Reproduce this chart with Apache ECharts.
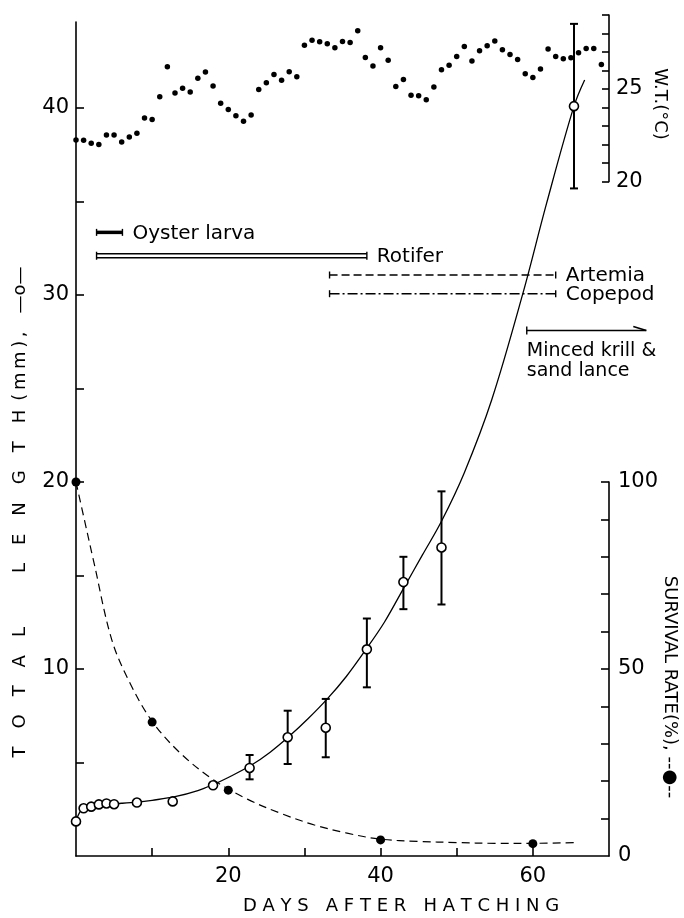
<!DOCTYPE html>
<html><head><meta charset="utf-8">
<script src="https://cdn.jsdelivr.net/npm/echarts@6/dist/echarts.min.js"></script>
<style>html,body{margin:0;padding:0;background:#fff}#c{width:684px;height:918px}</style>
</head><body><div id="c"></div>
<script>
// ---------- DATA ----------
const wtDays = [0,1,2,3,4,5,6,7,8,9,10,11,12,13,14,15,16,17,18,19,20,21,22,23,24,25,26,27,28,29,30,31,32,33,34,35,36,37,38,39,40,41,42,43,44,45,46,47,48,49,50,51,52,53,54,55,56,57,58,59,60,61,62,63,64,65,66,67,68,69];
const wtValues = [22.25,22.23,22.07,22.0,22.52,22.52,22.14,22.41,22.61,23.44,
  23.35,24.59,26.2,24.78,25.04,24.84,25.58,25.92,25.16,24.23,
  23.9,23.56,23.26,23.6,24.98,25.34,25.79,25.47,25.94,25.67,
  27.37,27.63,27.55,27.45,27.23,27.57,27.52,28.15,26.71,26.24,
  27.23,26.56,25.14,25.52,24.66,24.64,24.42,25.11,26.04,26.29,
  26.76,27.30,26.51,27.07,27.34,27.59,27.12,26.87,26.6,25.83,
  25.63,26.08,27.16,26.76,26.64,26.69,26.96,27.19,27.19,26.33];

const lengthDays   = [0,1,2,3,4,5,8,12.7,18,22.8,27.8,32.8,38.2,43,48,65.4];
const lengthValues = [1.85,2.55,2.64,2.76,2.81,2.77,2.86,2.92,3.78,4.71,6.35,6.86,11.05,14.65,16.5,40.1];

const errorDays = [22.8,27.8,32.8,38.2,43,48,65.4];
const errorLow  = [4.1,4.92,5.28,9.02,13.2,13.45,35.7];
const errorHigh = [5.4,7.77,8.4,12.7,16.0,19.5,44.5];

const lengthCurveDays   = [0,0.5,1,2,4,6,8,10,13,16,18,20,23,25.5,28,30.5,33,35.5,38,40.5,43,45.5,48,51,54.6,58.7,61.8,65.4,66.8];
const lengthCurveValues = [1.9,2.35,2.55,2.65,2.78,2.82,2.88,2.98,3.17,3.5,3.82,4.2,4.85,5.55,6.4,7.35,8.4,9.6,11.0,12.5,14.3,16.1,17.9,20.5,24.4,30.1,34.9,40.1,41.5];

const survivalDays   = [0,10,20,40,60];
const survivalValues = [100,35.8,17.6,4.3,3.3];

const survivalCurveDays   = [0,1.2,2.3,4.7,7.1,10,13.7,18.1,22.5,26.9,31.3,35.6,40,45,50,55,60,65.6];
const survivalCurveValues = [100,89,79,57.8,46.2,36,27.5,20.3,15.2,11.4,8.3,6.1,4.5,3.9,3.6,3.4,3.4,3.6];

const dietNames = ['Oyster larva','Rotifer','Artemia','Copepod','Minced krill &\nsand lance'];
const dietStart = [2.7,2.7,33.3,33.3,59.2];
const dietEnd   = [6.1,38.2,63.0,63.0,74.9];
const dietLevel = [33.35,32.1,31.07,30.07,28.1];

const xTicks = [10,20,30,40,50,60];
const xLabels = [20,40,60];
const lenTicks = [5,10,15,20,25,30,35,40];
const lenLabels = [10,20,30,40];
const survTicks = [10,20,30,40,50,60,70,80,90,100];
const survLabels = [0,50,100];
const wtTicks = [20,21,22,23,24,25,26,27,28,29];
const wtLabels = [20,25];

// ---------- STYLE CONFIG ----------
const FONT = 'DejaVu Sans';
const dietKinds = ['thick','double','dashed','dashdot','arrow'];

const zip = (a, b) => a.map((v, i) => [v, b[i]]);

const chart = echarts.init(document.getElementById('c'), null, {renderer: 'canvas'});

const axisLine = {show: true, onZero: false, lineStyle: {color: '#000', width: 1.6}};
const labelStyle = {color: '#000', fontFamily: FONT, fontSize: 21};
const tickStyle = {color: '#000', width: 1.6};

function diet(params, api) {
  const i = params.dataIndex;
  const a = api.coord([dietStart[i], dietLevel[i]]);
  const b = api.coord([dietEnd[i], dietLevel[i]]);
  const kind = dietKinds[i];
  const st = {stroke: '#000', lineWidth: 1.4};
  const ch = [];
  const cap = (x, h) => ({type: 'line', shape: {x1: x, y1: a[1] - h, x2: x, y2: a[1] + h}, style: st});
  if (kind === 'thick') {
    ch.push({type: 'line', shape: {x1: a[0], y1: a[1], x2: b[0], y2: b[1]}, style: {stroke: '#000', lineWidth: 3.5}});
    ch.push(cap(a[0], 3.5), cap(b[0], 3.5));
  } else if (kind === 'double') {
    ch.push({type: 'line', shape: {x1: a[0], y1: a[1] - 2, x2: b[0], y2: b[1] - 2}, style: st});
    ch.push({type: 'line', shape: {x1: a[0], y1: a[1] + 2, x2: b[0], y2: b[1] + 2}, style: st});
    ch.push(cap(a[0], 4), cap(b[0], 4));
  } else if (kind === 'dashed') {
    ch.push({type: 'line', shape: {x1: a[0], y1: a[1], x2: b[0], y2: b[1]}, style: {stroke: '#000', lineWidth: 1.4, lineDash: [8, 4]}});
    ch.push(cap(a[0], 3.5), cap(b[0], 3.5));
  } else if (kind === 'dashdot') {
    ch.push({type: 'line', shape: {x1: a[0], y1: a[1], x2: b[0], y2: b[1]}, style: {stroke: '#000', lineWidth: 1.4, lineDash: [10, 3, 2, 3]}});
    ch.push(cap(a[0], 3.5), cap(b[0], 3.5));
  } else {
    ch.push({type: 'line', shape: {x1: a[0], y1: a[1], x2: b[0], y2: b[1]}, style: {stroke: '#000', lineWidth: 1.6}});
    ch.push(cap(a[0], 4));
    ch.push({type: 'line', shape: {x1: b[0], y1: b[1], x2: b[0] - 13, y2: b[1] - 4}, style: {stroke: '#000', lineWidth: 1.6}});
  }
  if (kind === 'arrow') {
    ch.push({type: 'text', style: {text: 'Minced krill &', x: a[0], y: a[1] + 21, font: '19px "' + FONT + '"', fill: '#000', textAlign: 'left', textVerticalAlign: 'middle'}});
    ch.push({type: 'text', style: {text: 'sand lance', x: a[0], y: a[1] + 41, font: '19px "' + FONT + '"', fill: '#000', textAlign: 'left', textVerticalAlign: 'middle'}});
  } else {
    ch.push({type: 'text', style: {text: dietNames[i], x: b[0] + 10, y: b[1] + 1, font: '20px "' + FONT + '"', fill: '#000', textAlign: 'left', textVerticalAlign: 'middle'}});
  }
  return {type: 'group', children: ch};
}

function errBar(params, api) {
  const x = api.value(0);
  const p1 = api.coord([x, api.value(1)]);
  const p2 = api.coord([x, api.value(2)]);
  const w = 4;
  const s = {stroke: '#000', lineWidth: 2};
  return {type: 'group', children: [
    {type: 'line', shape: {x1: p1[0], y1: p1[1], x2: p2[0], y2: p2[1]}, style: s},
    {type: 'line', shape: {x1: p1[0] - w, y1: p1[1], x2: p1[0] + w, y2: p1[1]}, style: s},
    {type: 'line', shape: {x1: p2[0] - w, y1: p2[1], x2: p2[0] + w, y2: p2[1]}, style: s}
  ]};
}

const option = {
  backgroundColor: '#fff',
  animation: false,
  grid: [
    {left: 76, top: 22, width: 533, height: 834},
    {left: 76, top: 482, width: 533, height: 374},
    {left: 76, top: 15, width: 533, height: 166.6}
  ],
  xAxis: [
    {gridIndex: 0, type: 'value', min: 0, max: 70, axisLine: axisLine,
     axisTick: {show: true, inside: true, length: 8, lineStyle: tickStyle, customValues: xTicks},
     axisLabel: {...labelStyle, margin: 10, customValues: xLabels},
     splitLine: {show: false}},
    {gridIndex: 1, type: 'value', min: 0, max: 70, show: false},
    {gridIndex: 2, type: 'value', min: 0, max: 70, show: false}
  ],
  yAxis: [
    {gridIndex: 0, type: 'value', min: 0, max: 44.6, position: 'left', axisLine: axisLine,
     axisTick: {show: true, inside: true, length: 8, lineStyle: tickStyle, customValues: lenTicks},
     axisLabel: {...labelStyle, margin: 7, customValues: lenLabels},
     splitLine: {show: false}},
    {gridIndex: 1, type: 'value', min: 0, max: 100, position: 'right', axisLine: axisLine,
     axisTick: {show: true, inside: true, length: 8, lineStyle: tickStyle, customValues: survTicks},
     axisLabel: {...labelStyle, margin: 9, customValues: survLabels},
     splitLine: {show: false}},
    {gridIndex: 2, type: 'value', min: 20, max: 29, position: 'right', axisLine: axisLine,
     axisTick: {show: true, inside: true, length: 7, lineStyle: tickStyle, customValues: wtTicks},
     axisLabel: {...labelStyle, margin: 7, customValues: wtLabels},
     splitLine: {show: false}}
  ],
  series: [
    {type: 'scatter', name: 'W.T.', xAxisIndex: 2, yAxisIndex: 2, data: zip(wtDays, wtValues),
     symbol: 'circle', symbolSize: 5.5, itemStyle: {color: '#000', opacity: 1}, z: 3},
    {type: 'line', name: 'Length curve', xAxisIndex: 0, yAxisIndex: 0, data: zip(lengthCurveDays, lengthCurveValues),
     smooth: 0.35, showSymbol: false, lineStyle: {color: '#000', width: 1.3}, z: 2},
    {type: 'custom', name: 'Error', xAxisIndex: 0, yAxisIndex: 0, renderItem: errBar,
     data: errorDays.map((d, i) => [d, errorLow[i], errorHigh[i]]), encode: {x: 0, y: [1, 2]}, z: 3},
    {type: 'scatter', name: 'Total length', xAxisIndex: 0, yAxisIndex: 0, data: zip(lengthDays, lengthValues),
     symbol: 'circle', symbolSize: 9, itemStyle: {color: '#fff', borderColor: '#000', borderWidth: 1.6, opacity: 1}, z: 5},
    {type: 'line', name: 'Survival curve', xAxisIndex: 1, yAxisIndex: 1, data: zip(survivalCurveDays, survivalCurveValues),
     smooth: 0.35, showSymbol: false, lineStyle: {color: '#000', width: 1.2, type: [8, 5]}, z: 2},
    {type: 'scatter', name: 'Survival rate', xAxisIndex: 1, yAxisIndex: 1, data: zip(survivalDays, survivalValues),
     symbol: 'circle', symbolSize: 9, itemStyle: {color: '#000', opacity: 1}, z: 5},
    {type: 'custom', name: 'Diet', xAxisIndex: 0, yAxisIndex: 0, renderItem: diet, clip: false,
     data: dietStart.map((s, i) => [s, dietLevel[i], dietEnd[i]]), encode: {x: [0, 2], y: 1}, z: 4}
  ],
  graphic: [
    {type: 'text', x: 401, y: 906, style: {text: 'D A Y S   A F T E R   H A T C H I N G', font: '18px "' + FONT + '"', fill: '#000', textAlign: 'center', textVerticalAlign: 'middle'}},
    {type: 'text', x: 20, y: 512, rotation: Math.PI / 2, style: {text: 'T\u2003O\u2003T\u2003A\u2003L\u2003\u2003\u2003L\u2003E\u2003N\u2003G\u2003T\u2003H\u2002(\u2009m\u2009m\u2009)\u2009,\u2003\u2014o\u2014', font: '18px "' + FONT + '"', fill: '#000', textAlign: 'center', textVerticalAlign: 'middle'}},
    {type: 'text', x: 670, y: 687, rotation: -Math.PI / 2, style: {text: 'SURVIVAL RATE(%), --\u25CF--', font: '18px "' + FONT + '"', fill: '#000', textAlign: 'center', textVerticalAlign: 'middle'}},
    {type: 'text', x: 660, y: 104, rotation: -Math.PI / 2, style: {text: 'W.T.(\u00B0C)', font: '18px "' + FONT + '"', fill: '#000', textAlign: 'center', textVerticalAlign: 'middle'}}
  ]
};
chart.setOption(option);
</script>
</body></html>
